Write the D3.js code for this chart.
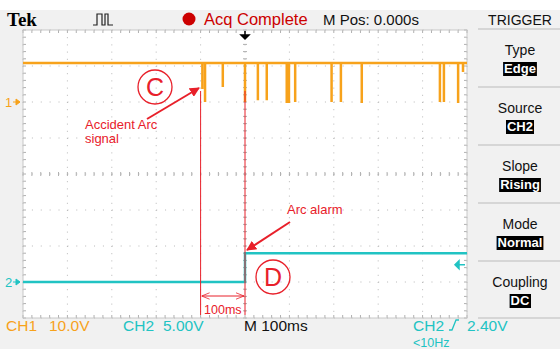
<!DOCTYPE html>
<html>
<head>
<meta charset="utf-8">
<script src="https://cdn.jsdelivr.net/npm/d3@7"></script>
<style>
  body { margin: 0; background: #fff; }
  svg { font-family: "Liberation Sans", Arial, sans-serif; }
</style>
</head>
<body>
<div id="scope"></div>
<script>
// time axis, ms (M 100ms/div, M Pos 0.000s)
var timeDomain = [-500, 500];
var timeTicks = [-500, -400, -300, -200, -100, 0, 100, 200, 300, 400, 500];

// CH1 (10.0V/div): level and the arc dips
var ch1Base = 10.8;
var ch1DipTimes = [-96, -90, -50, 0, 29, 49, 94, 99, 113, 195, 216, 263, 439, 448, 480, 491];
var ch1DipLevels = [3.6, 0, 4.2, 0, 0.5, 0.5, -0.3, -0.3, 0, 0, 0, -0.3, 0, 0, -0.3, 8.3];

// CH2 (5.00V/div): arc alarm step
var ch2Times = [-500, 0, 0, 500];
var ch2Volts = [0, 0, 4, 4];
var ch2Trigger = 2.4;

// trigger menu
var menuTitles = ['Type', 'Source', 'Slope', 'Mode', 'Coupling'];
var menuValues = ['Edge', 'CH2', 'Rising', 'Normal', 'DC'];

var W = 560, H = 349,
    gx0 = 23, gx1 = 467, gy0 = 30, gy1 = 318,
    orange = '#f7a21b',
    cyan = '#21c3c3',
    red = '#e8202a';

var svg = d3.select('#scope').append('svg')
    .attr('width', W).attr('height', H);

svg.append('rect').attr('x', 0).attr('y', 10).attr('width', W).attr('height', H - 10).attr('fill', '#f1f1f1');
svg.append('rect').attr('x', gx0).attr('y', gy0).attr('width', gx1 - gx0).attr('height', gy1 - gy0).attr('fill', '#fff');

var x = d3.scaleLinear().domain(timeDomain).range([gx0, gx1]);
var yDiv = d3.scaleLinear().domain([-4, 4]).range([gy1, gy0]);
var y1 = d3.scaleLinear().domain([-60, 20]).range([gy1, gy0]);
var y2 = d3.scaleLinear().domain([-5, 35]).range([gy1, gy0]);

// graticule
var grid = svg.append('g').attr('class', 'grid');
var divW = (gx1 - gx0) / 10, divH = (gy1 - gy0) / 8;
timeTicks.forEach(function (t) {
    grid.append('line')
        .attr('x1', x(t)).attr('x2', x(t)).attr('y1', gy0).attr('y2', gy1)
        .attr('stroke', '#b8b8b8').attr('stroke-width', 1)
        .attr('stroke-dasharray', '1,' + (divH / 5 - 1));
});
d3.range(-4, 5).forEach(function (d) {
    grid.append('line')
        .attr('x1', gx0).attr('x2', gx1).attr('y1', yDiv(d)).attr('y2', yDiv(d))
        .attr('stroke', '#b8b8b8').attr('stroke-width', 1)
        .attr('stroke-dasharray', '1,' + (divW / 5 - 1));
});
// minor ticks on centre axes and edges
d3.range(0, 51).forEach(function (i) {
    var xx = gx0 + i * divW / 5;
    [[gy0, 3], [gy1 - 3, 3], [yDiv(0) - 2, 4]].forEach(function (s) {
        grid.append('line').attr('x1', xx).attr('x2', xx).attr('y1', s[0]).attr('y2', s[0] + s[1])
            .attr('stroke', '#b0b0b0');
    });
});
d3.range(0, 41).forEach(function (i) {
    var yy = gy0 + i * divH / 5;
    [[gx0, 3], [gx1 - 3, 3], [x(0) - 2, 4]].forEach(function (s) {
        grid.append('line').attr('y1', yy).attr('y2', yy).attr('x1', s[0]).attr('x2', s[0] + s[1])
            .attr('stroke', '#b0b0b0');
    });
});
svg.append('rect').attr('x', gx0).attr('y', gy0).attr('width', gx1 - gx0).attr('height', gy1 - gy0)
    .attr('fill', 'none').attr('stroke', '#c8c8c8');

// CH1 trace
var ch1Points = [[timeDomain[0], ch1Base]];
ch1DipTimes.forEach(function (t, i) {
    ch1Points.push([t, ch1Base], [t, ch1DipLevels[i]], [t, ch1Base]);
});
ch1Points.push([timeDomain[1], ch1Base]);
svg.append('path')
    .attr('d', d3.line().x(function (d) { return x(d[0]); }).y(function (d) { return y1(d[1]); })(ch1Points))
    .attr('fill', 'none').attr('stroke', orange).attr('stroke-width', 2.5);

// CH2 trace
svg.append('path')
    .attr('d', d3.line().x(function (d) { return x(d); }).y(function (d, i) { return y2(ch2Volts[i]); })(ch2Times))
    .attr('fill', 'none').attr('stroke', cyan).attr('stroke-width', 2.5);

// ground markers and trigger level
svg.append('text').attr('x', 5).attr('y', y1(0) + 5).attr('fill', orange).attr('font-size', 13).text('1');
svg.append('path').attr('d', 'M13,' + y1(0) + 'h7m-4,-3l4,3l-4,3z').attr('stroke', orange).attr('fill', orange);
svg.append('text').attr('x', 5).attr('y', y2(0) + 5).attr('fill', cyan).attr('font-size', 13).text('2');
svg.append('path').attr('d', 'M13,' + y2(0) + 'h7m-4,-3l4,3l-4,3z').attr('stroke', cyan).attr('fill', cyan);
svg.append('path').attr('d', 'M' + (gx1 - 2) + ',' + y2(ch2Trigger) + 'h-10m4,-4l-4,4l4,4z')
    .attr('stroke', cyan).attr('stroke-width', 1.5).attr('fill', cyan);
// trigger position arrow
svg.append('path').attr('d', 'M' + x(0) + ',31v8m-4,-4l4,4l4,-4z')
    .attr('stroke', '#000').attr('stroke-width', 1.5).attr('fill', '#000');

// annotations
var ann = svg.append('g').attr('class', 'annotations');
svg.append('defs').append('marker')
    .attr('id', 'head').attr('viewBox', '0 0 10 10').attr('refX', 9).attr('refY', 5)
    .attr('markerWidth', 5).attr('markerHeight', 5).attr('orient', 'auto')
    .append('path').attr('d', 'M0,0L10,5L0,10z').attr('fill', red);
svg.append('defs').append('marker')
    .attr('id', 'open').attr('viewBox', '0 0 10 10').attr('refX', 10).attr('refY', 5)
    .attr('markerWidth', 8).attr('markerHeight', 8).attr('orient', 'auto-start-reverse')
    .append('path').attr('d', 'M0,1L10,5L0,9').attr('fill', 'none').attr('stroke', red);

[-100, 0].forEach(function (t) {
    ann.append('line').attr('x1', x(t)).attr('x2', x(t)).attr('y1', 91).attr('y2', 315)
        .attr('stroke', red).attr('stroke-width', 1);
});
ann.append('line').attr('x1', x(-100) + 1).attr('x2', x(0) - 1).attr('y1', 296).attr('y2', 296)
    .attr('stroke', red).attr('marker-start', 'url(#open)').attr('marker-end', 'url(#open)');
ann.append('text').attr('x', (x(-100) + x(0)) / 2).attr('y', 314).attr('text-anchor', 'middle')
    .attr('fill', red).attr('font-size', 12.5).text('100ms');

ann.append('circle').attr('cx', 155).attr('cy', 87).attr('r', 17).attr('fill', 'none').attr('stroke', red).attr('stroke-width', 1.3);
ann.append('text').attr('x', 155).attr('y', 96).attr('text-anchor', 'middle').attr('fill', red).attr('font-size', 25).text('C');
ann.append('line').attr('x1', 147).attr('y1', 119).attr('x2', 199).attr('y2', 88)
    .attr('stroke', red).attr('stroke-width', 2).attr('marker-end', 'url(#head)');
ann.append('text').attr('x', 85).attr('y', 129).attr('fill', red).attr('font-size', 13).text('Accident Arc');
ann.append('text').attr('x', 85).attr('y', 143).attr('fill', red).attr('font-size', 13).text('signal');

ann.append('circle').attr('cx', 273).attr('cy', 277).attr('r', 17).attr('fill', 'none').attr('stroke', red).attr('stroke-width', 1.3);
ann.append('text').attr('x', 273).attr('y', 286).attr('text-anchor', 'middle').attr('fill', red).attr('font-size', 25).text('D');
ann.append('line').attr('x1', 290).attr('y1', 222).attr('x2', 247).attr('y2', 250)
    .attr('stroke', red).attr('stroke-width', 2).attr('marker-end', 'url(#head)');
ann.append('text').attr('x', 287).attr('y', 214).attr('fill', red).attr('font-size', 13).text('Arc alarm');

// header
svg.append('text').attr('x', 7).attr('y', 26).style('font-family', '"Liberation Serif", "DejaVu Serif", serif')
    .attr('font-weight', 'bold').attr('font-size', 19).text('Tek');
svg.append('path').attr('d', 'M93,25h4v-11h5v11h3v-11h3v11h5')
    .attr('fill', 'none').attr('stroke', '#222').attr('stroke-width', 1.2);
svg.append('circle').attr('cx', 189).attr('cy', 19).attr('r', 6.5).attr('fill', '#cc0000');
svg.append('text').attr('x', 204).attr('y', 25).attr('fill', '#cc0000').attr('font-size', 16.5).text('Acq Complete');
svg.append('text').attr('x', 323).attr('y', 25).attr('fill', '#111').attr('font-size', 15).text('M Pos: 0.000s');
svg.append('text').attr('x', 520).attr('y', 25).attr('text-anchor', 'middle').attr('fill', '#111').attr('font-size', 14).text('TRIGGER');

// trigger menu
var menu = svg.append('g').attr('class', 'menu');
menuTitles.forEach(function (m, i) {
    var top = 29 + i * 58;
    menu.append('line').attr('x1', 478).attr('x2', W).attr('y1', top).attr('y2', top).attr('stroke', '#bbb');
    menu.append('text').attr('x', 520).attr('y', top + 26).attr('text-anchor', 'middle')
        .attr('fill', '#111').attr('font-size', 14).text(m);
    var t = menu.append('text').attr('x', 520).attr('y', top + 44).attr('text-anchor', 'middle')
        .attr('fill', '#fff').attr('font-size', 13).attr('font-weight', 'bold').text(menuValues[i]);
    var bb = t.node().getBBox();
    menu.insert('rect', function () { return t.node(); })
        .attr('x', bb.x - 1).attr('y', top + 33).attr('width', bb.width + 2).attr('height', 14).attr('fill', '#000');
});
menu.append('line').attr('x1', 478).attr('x2', W).attr('y1', 318).attr('y2', 318).attr('stroke', '#bbb');

// footer
var foot = svg.append('g').attr('font-size', 15.5);
foot.append('text').attr('x', 6).attr('y', 331).attr('fill', orange).text('CH1');
foot.append('text').attr('x', 49).attr('y', 331).attr('fill', orange).text('10.0V');
foot.append('text').attr('x', 123).attr('y', 331).attr('fill', cyan).text('CH2');
foot.append('text').attr('x', 163).attr('y', 331).attr('fill', cyan).text('5.00V');
foot.append('text').attr('x', 244).attr('y', 331).attr('fill', '#111').text('M 100ms');
foot.append('text').attr('x', 413).attr('y', 331).attr('fill', cyan).text('CH2');
foot.append('path').attr('d', 'M449,330h3l4,-10h3').attr('fill', 'none').attr('stroke', cyan).attr('stroke-width', 1.3);
foot.append('text').attr('x', 467).attr('y', 331).attr('fill', cyan).text('2.40V');
foot.append('text').attr('x', 413).attr('y', 346.5).attr('fill', cyan).attr('font-size', 12.5).text('<10Hz');
</script>
</body>
</html>
